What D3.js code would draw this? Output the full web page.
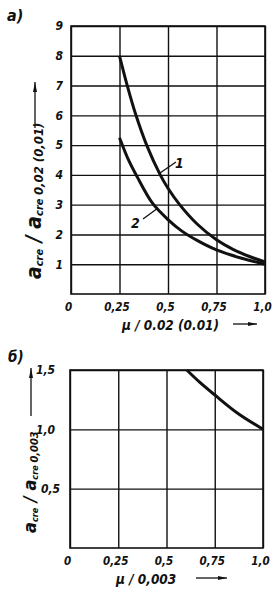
<!DOCTYPE html>
<html>
<head>
<meta charset="utf-8">
<script src="https://cdn.jsdelivr.net/npm/d3@7"></script>
<style>
  body { margin: 0; background: #fff; }
  svg text { font-family: "DejaVu Sans Condensed", "DejaVu Sans", sans-serif; font-style: italic; font-weight: bold; fill: #111; }
  .grid line, .grid path { stroke: #111; stroke-width: 1.4; }
</style>
</head>
<body>
<div id="chart"></div>
<script>
// chart a) values
var xTicks = [0, 0.25, 0.5, 0.75, 1.0];
var xTickLabels = ["0", "0,25", "0,5", "0,75", "1,0"];
var yTicksA = [1, 2, 3, 4, 5, 6, 7, 8, 9];
var yTickLabelsA = ["1", "2", "3", "4", "5", "6", "7", "8", "9"];
var curve1X = [0.25, 0.29, 0.335, 0.39, 0.46, 0.5, 0.56, 0.65, 0.75, 0.835, 0.92, 1.0];
var curve1Y = [8.0, 7.0, 6.0, 5.0, 4.0, 3.55, 3.0, 2.35, 1.82, 1.5, 1.26, 1.08];
var curve2X = [0.25, 0.3, 0.34, 0.42, 0.5, 0.57, 0.65, 0.75, 0.88, 1.0];
var curve2Y = [5.25, 4.45, 3.95, 3.05, 2.5, 2.12, 1.8, 1.48, 1.2, 1.0];

// chart б) values
var yTicksB = [0.5, 1.0, 1.5];
var yTickLabelsB = ["0,5", "1,0", "1,5"];
var curve3X = [0.605, 0.67, 0.75, 0.865, 1.0];
var curve3Y = [1.5, 1.4, 1.29, 1.14, 1.0];

var svgWidth = 276;
var svgHeight = 595;

var svg = d3.select("#chart")
  .append("svg")
  .attr("width", svgWidth)
  .attr("height", svgHeight);

function zip(xs, ys) {
  return xs.map(function(x, i) { return [x, ys[i]]; });
}

// draws one panel: frame, grid, tick labels
function drawPanel(xScale, yScale, yTicks, yLabels, yLabelDx) {
  var w = xScale.range()[1] - xScale.range()[0];
  var h = yScale.range()[0] - yScale.range()[1];

  var gx = svg.append("g")
    .attr("class", "grid")
    .attr("transform", `translate(0, ${yScale.range()[0]})`)
    .call(d3.axisBottom(xScale)
      .tickValues(xTicks)
      .tickSize(-h)
      .tickPadding(7)
      .tickFormat(function(d, i) { return xTickLabels[i]; }));
  gx.selectAll("text")
    .attr("font-size", "11.5px")
    .attr("dx", "-3")
    .attr("dy", "0.9em");
  gx.select(".domain").remove();

  var gy = svg.append("g")
    .attr("class", "grid")
    .attr("transform", `translate(${xScale.range()[0]}, 0)`)
    .call(d3.axisLeft(yScale)
      .tickValues(yTicks)
      .tickSize(-w)
      .tickPadding(yLabelDx)
      .tickFormat(function(d, i) { return yLabels[i]; }));
  gy.selectAll("text")
    .attr("font-size", "12px");
  gy.select(".domain").remove();

  // frame
  svg.append("rect")
    .attr("x", xScale.range()[0])
    .attr("y", yScale.range()[1])
    .attr("width", w)
    .attr("height", h)
    .attr("fill", "none")
    .attr("stroke", "#111")
    .attr("stroke-width", 1.6);
  return gy;
}

function drawCurve(xScale, yScale, pts) {
  var line = d3.line()
    .x(d => xScale(d[0]))
    .y(d => yScale(d[1]))
    .curve(d3.curveCatmullRom.alpha(0.5));
  svg.append("path")
    .datum(pts)
    .attr("d", line)
    .attr("fill", "none")
    .attr("stroke", "#111")
    .attr("stroke-width", 3);
}

function arrowLine(x1, y1, x2, y2) {
  svg.append("line")
    .attr("x1", x1).attr("y1", y1).attr("x2", x2).attr("y2", y2)
    .attr("stroke", "#111").attr("stroke-width", 1.3);
}

function yTitle(x, y, tail, big, small) {
  var t = svg.append("text")
    .attr("transform", `translate(${x}, ${y}) rotate(-90)`)
    .attr("font-size", big + "px");
  t.append("tspan").text("a");
  t.append("tspan").attr("font-size", small + "px").attr("dy", 2).text("cre");
  t.append("tspan").attr("dy", -2).text(" / a");
  t.append("tspan").attr("font-size", small + "px").attr("dy", 2).text("cre ");
  t.append("tspan").attr("font-size", (small + 2) + "px").text(tail);
}

// ---------- panel a)
var xA = d3.scaleLinear().domain([0, 1]).range([71, 265]);
var yA = d3.scaleLinear().domain([0, 9]).range([294, 26]);
drawPanel(xA, yA, yTicksA, yTickLabelsA, 8);
drawCurve(xA, yA, zip(curve1X, curve1Y));
drawCurve(xA, yA, zip(curve2X, curve2Y));

svg.append("text").attr("x", 7).attr("y", 21).attr("font-size", "16px").text("а)");

// curve labels with leaders
svg.append("text").attr("x", 175).attr("y", 168).attr("font-size", "14px").text("1");
arrowLine(160, 173, 176, 162);
svg.append("text").attr("x", 131).attr("y", 228).attr("font-size", "14px").text("2");
arrowLine(143, 219, 158, 208);

// x title a)
svg.append("text").attr("x", 122).attr("y", 330).attr("font-size", "13.5px")
  .text("μ / 0.02 (0.01)");
arrowLine(233, 324, 257, 324);
svg.append("path").attr("d", "M248,322 L257,324 L248,326 Z").attr("fill", "#111");

// y title a)
yTitle(41, 279, "0,02 (0,01)", 21, 11);
arrowLine(35, 128, 35, 82);
svg.append("path").attr("d", "M33,92 L35,82 L37,92 Z").attr("fill", "#111");

// ---------- panel б)
var xB = d3.scaleLinear().domain([0, 1]).range([70, 263]);
var yB = d3.scaleLinear().domain([0, 1.5]).range([548, 370]);
var gyB = drawPanel(xB, yB, yTicksB, yTickLabelsB, 15);
gyB.selectAll("text").attr("dx", (d, i) => i === 0 ? 5 : 0);
drawCurve(xB, yB, zip(curve3X, curve3Y));

svg.append("text").attr("x", 8).attr("y", 362).attr("font-size", "15px").text("б)");

svg.append("text").attr("x", 116).attr("y", 584).attr("font-size", "13.5px")
  .text("μ / 0,003");
arrowLine(196, 578, 227, 578);
svg.append("path").attr("d", "M218,576 L227,578 L218,580 Z").attr("fill", "#111");

yTitle(36, 533, "0,003", 18, 9);
arrowLine(31, 416, 31, 368);
svg.append("path").attr("d", "M29,378 L31,368 L33,378 Z").attr("fill", "#111");
</script>
</body>
</html>
